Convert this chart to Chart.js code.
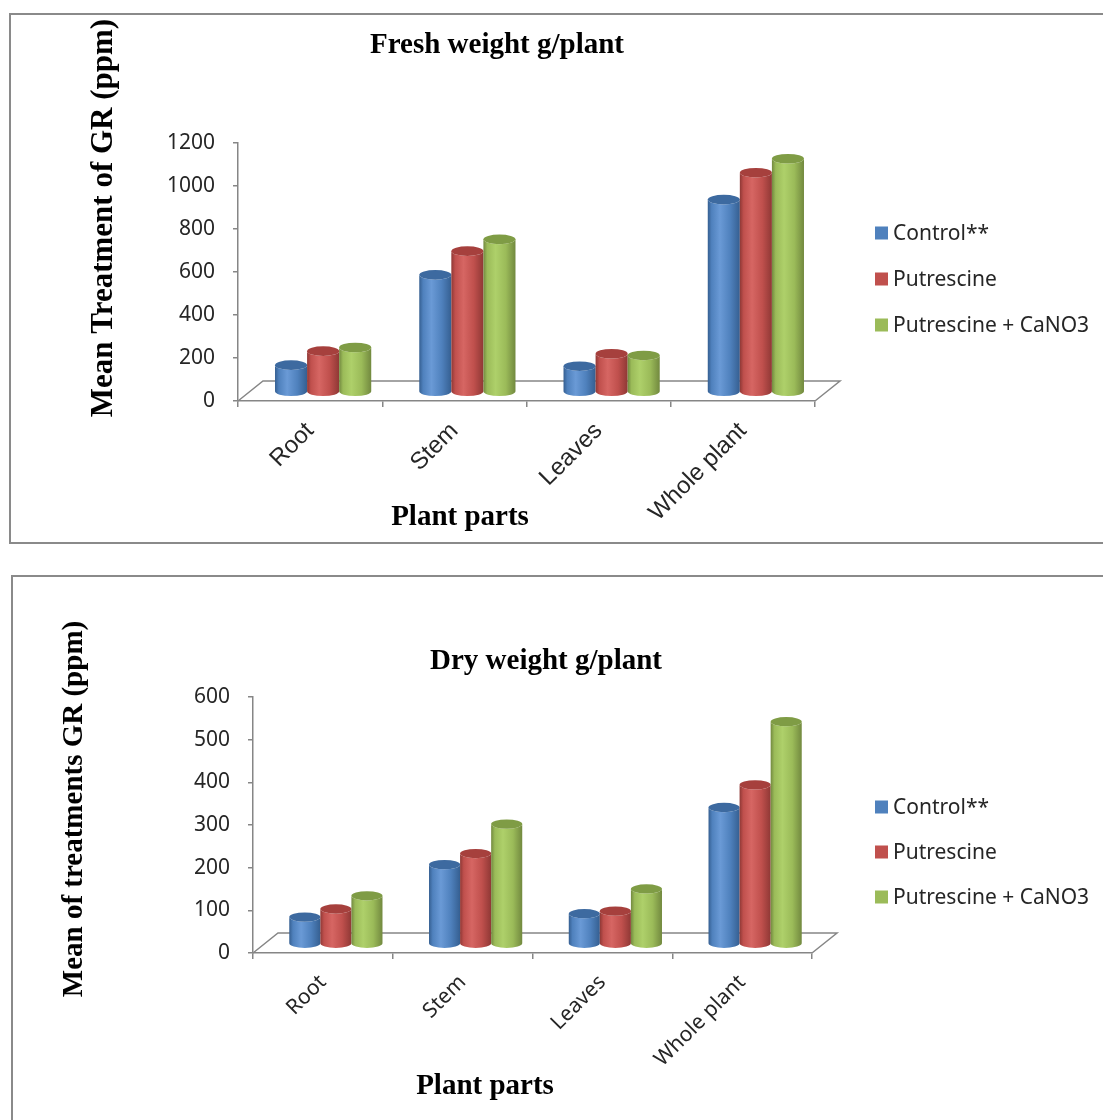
<!DOCTYPE html>
<html>
<head>
<meta charset="utf-8">
<title>Fresh and dry weight g/plant</title>
<script src="https://cdn.jsdelivr.net/npm/chart.js@4/dist/chart.umd.min.js"></script>
<style>
  html, body { margin: 0; padding: 0; background: #fff; overflow: hidden; width: 1103px; height: 1120px; }
  .frame { position: absolute; border: 2px solid #8a8a8a; box-sizing: border-box; }
  canvas { position: absolute; left: 0; }
</style>
</head>
<body>
<div class="frame" style="left:9px; top:13px; width:1200px; height:531px;"></div>
<div class="frame" style="left:11px; top:575px; width:1200px; height:600px;"></div>
<canvas id="fresh" width="1103" height="560" style="top:0;"></canvas>
<canvas id="dry" width="1103" height="560" style="top:560px;"></canvas>

<script>
// ---- data -------------------------------------------------------------
const partLabels = ['Root', 'Stem', 'Leaves', 'Whole plant'];
const seriesNames = ['Control**', 'Putrescine', 'Putrescine + CaNO3'];

const freshControl     = [125, 545, 120, 895];
const freshPutrescine  = [190, 655, 178, 1020];
const freshPutCaNO3    = [207, 710, 170, 1085];

const dryControl       = [63, 186, 71, 320];
const dryPutrescine    = [82, 212, 77, 373];
const dryPutCaNO3      = [113, 281, 129, 521];

const freshAxisMax = 1200, freshAxisStep = 200;
const dryAxisMax = 600, dryAxisStep = 100;

// ---- styling ----------------------------------------------------------
const AXIS_GREY = '#868686';
const SERIES_STYLE = [
  { base: '#4f81bd', light: '#6a9ad6', dark: '#355f91', top: '#3d6aa0' },
  { base: '#c0504d', light: '#d66663', dark: '#8f3835', top: '#a6403d' },
  { base: '#9bbb59', light: '#aed06a', dark: '#72893f', top: '#7f9c45' }
];
const BAR_SHIFT = { dx: 13, dy: -9 };    // columns stand half-way back on the floor
const FLOOR_SHIFT = { dx: 25, dy: -20 }; // back edge of the floor

// Draws the 3-D floor and the cylinders in place of flat bars.
const cylinderBars = {
  id: 'cylinderBars',
  beforeDatasetsDraw(chart) {
    const { ctx, chartArea: a } = chart;
    ctx.save();
    ctx.strokeStyle = AXIS_GREY;
    ctx.lineWidth = 1.5;
    ctx.beginPath();
    ctx.moveTo(a.left, a.bottom);
    ctx.lineTo(a.left + FLOOR_SHIFT.dx, a.bottom + FLOOR_SHIFT.dy);
    ctx.lineTo(a.right + FLOOR_SHIFT.dx, a.bottom + FLOOR_SHIFT.dy);
    ctx.lineTo(a.right, a.bottom);
    ctx.stroke();

    chart.data.datasets.forEach((ds, i) => {
      const st = SERIES_STYLE[i];
      chart.getDatasetMeta(i).data.forEach(bar => {
        const p = bar.getProps(['x', 'y', 'base', 'width'], true);
        const cx = p.x + BAR_SHIFT.dx;
        const top = p.y + BAR_SHIFT.dy;
        const bottom = p.base + BAR_SHIFT.dy;
        const rx = p.width / 2;
        const ry = rx * 0.3;
        const g = ctx.createLinearGradient(cx - rx, 0, cx + rx, 0);
        g.addColorStop(0, st.dark);
        g.addColorStop(0.12, st.base);
        g.addColorStop(0.38, st.light);
        g.addColorStop(0.7, st.base);
        g.addColorStop(1, st.dark);
        ctx.beginPath();
        ctx.moveTo(cx - rx, top);
        ctx.lineTo(cx - rx, bottom);
        ctx.ellipse(cx, bottom, rx, ry, 0, Math.PI, 0, true);
        ctx.lineTo(cx + rx, top);
        ctx.ellipse(cx, top, rx, ry, 0, 0, Math.PI, false);
        ctx.closePath();
        ctx.fillStyle = g;
        ctx.fill();
        ctx.beginPath();
        ctx.ellipse(cx, top, rx, ry, 0, 0, Math.PI * 2);
        ctx.fillStyle = st.top;
        ctx.fill();
      });
    });
    ctx.restore();
    return false;
  }
};

// Chart title, axis titles and legend.
const chartTexts = {
  id: 'chartTexts',
  afterDraw(chart, args, o) {
    const ctx = chart.ctx;
    ctx.save();
    ctx.fillStyle = '#000';
    ctx.textAlign = 'center';
    ctx.textBaseline = 'middle';
    ctx.font = 'bold 29px "Liberation Serif"';
    ctx.fillText(o.title.text, o.title.x, o.title.y);
    ctx.fillText(o.xTitle.text, o.xTitle.x, o.xTitle.y);
    ctx.save();
    ctx.translate(o.yTitle.x, o.yTitle.y);
    ctx.rotate(-Math.PI / 2);
    ctx.font = 'bold ' + o.yTitle.size + 'px "Liberation Serif"';
    ctx.fillText(o.yTitle.text, 0, 0);
    ctx.restore();

    ctx.textAlign = 'left';
    ctx.font = '21px "Noto Sans"';
    chart.data.datasets.forEach((ds, i) => {
      const y = o.legend.y + i * o.legend.gap;
      ctx.fillStyle = SERIES_STYLE[i].base;
      ctx.fillRect(o.legend.x, y - 6.5, 13, 13);
      ctx.fillStyle = '#262626';
      ctx.fillText(ds.label, o.legend.x + 18, y + 1);
    });
    ctx.restore();
  }
};

function makeChart(id, values, axisMax, axisStep, frame, texts, catFont, catPad) {
  return new Chart(document.getElementById(id), {
    type: 'bar',
    data: {
      labels: partLabels,
      datasets: values.map((v, i) => ({
        label: seriesNames[i],
        data: v,
        backgroundColor: SERIES_STYLE[i].base
      }))
    },
    options: {
      responsive: false,
      animation: false,
      events: [],
      layout: { padding: { top: frame.top, right: frame.right, left: 0, bottom: 0 } },
      datasets: { bar: { categoryPercentage: 0.667, barPercentage: 1.0 } },
      scales: {
        x: {
          afterFit: s => { s.height = frame.xHeight; },
          grid: { drawOnChartArea: false, offset: true, tickLength: 6, color: AXIS_GREY, lineWidth: 1.5 },
          border: { display: true, color: AXIS_GREY, width: 1.5 },
          ticks: { minRotation: 45, maxRotation: 45, padding: catPad, color: '#262626', font: catFont }
        },
        y: {
          min: 0, max: axisMax,
          afterFit: s => { s.width = frame.yWidth; },
          grid: { drawOnChartArea: false, tickLength: 5, color: AXIS_GREY, lineWidth: 1.5 },
          border: { display: true, color: AXIS_GREY, width: 1.5 },
          ticks: {
            stepSize: axisStep, padding: 18, color: '#262626',
            font: { family: 'Noto Sans', size: 21 },
            callback: v => String(v)
          }
        }
      },
      plugins: {
        legend: { display: false },
        title: { display: false },
        tooltip: { enabled: false },
        chartTexts: texts
      }
    },
    plugins: [cylinderBars, chartTexts]
  });
}

makeChart('fresh',
  [freshControl, freshPutrescine, freshPutCaNO3], freshAxisMax, freshAxisStep,
  { top: 143, right: 288, yWidth: 238, xHeight: 159 },
  {
    title:  { text: 'Fresh weight g/plant', x: 497, y: 46 },
    xTitle: { text: 'Plant parts', x: 460, y: 518 },
    yTitle: { text: 'Mean Treatment of GR (ppm)', x: 104, y: 218, size: 31 },
    legend: { x: 875, y: 233, gap: 46 }
  },
  { family: 'Liberation Sans', size: 24 }, 10);

makeChart('dry',
  [dryControl, dryPutrescine, dryPutCaNO3], dryAxisMax, dryAxisStep,
  { top: 137, right: 291, yWidth: 253, xHeight: 167 },
  {
    title:  { text: 'Dry weight g/plant', x: 546, y: 102 },
    xTitle: { text: 'Plant parts', x: 485, y: 527 },
    yTitle: { text: 'Mean of treatments GR (ppm)', x: 75, y: 249, size: 29 },
    legend: { x: 875, y: 247, gap: 45 }
  },
  { family: 'Noto Sans', size: 21 }, 11);
</script>
</body>
</html>
